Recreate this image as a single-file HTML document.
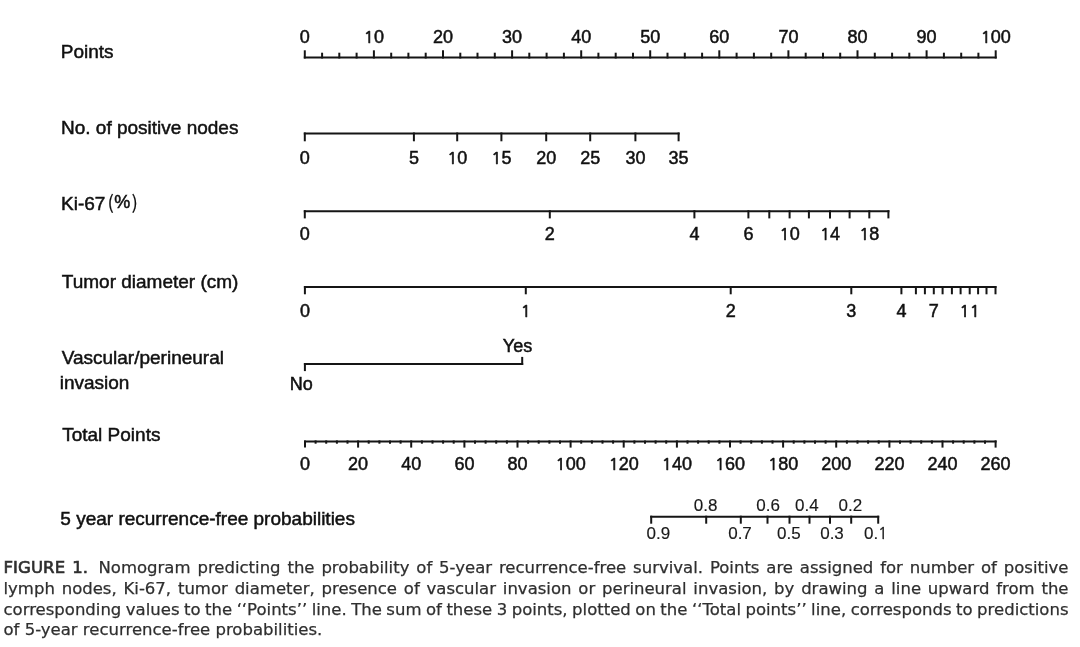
<!DOCTYPE html>
<html><head><meta charset="utf-8"><style>
html,body{margin:0;padding:0;background:#fff;}
body{width:1080px;height:647px;position:relative;overflow:hidden;}
svg{position:absolute;left:0;top:0;}
svg text{font-family:"Liberation Sans",Arial,sans-serif;fill:#111;stroke:#111;stroke-width:0.5px;}
svg text.p{fill:#1a1a1a;stroke-width:0.15px;}
svg .one{font-family:"NanumGothic","Liberation Sans",sans-serif;stroke-width:0.7px;}
svg text.p .one{stroke-width:0.35px;}
svg .cjk{stroke-width:0.15px;}
svg line{stroke:#151515;stroke-width:2.0;stroke-linecap:square;}
.cjk{font-family:"Noto Sans CJK SC",sans-serif;}
.cl{position:absolute;left:3.5px;width:1065px;font-family:"DejaVu Sans","Liberation Sans",sans-serif;font-size:16.5px;line-height:20.7px;color:#2f2f2f;-webkit-text-stroke:0.25px #2f2f2f;text-align:justify;text-align-last:justify;white-space:nowrap;}
.cl.l3{word-spacing:-0.8px;}
.cl.last{text-align-last:left;}
.cl b{font-weight:normal;letter-spacing:0.1px;-webkit-text-stroke:0.65px #2f2f2f;margin-right:3.5px;}
</style></head><body>
<svg width="1080" height="550" viewBox="0 0 1080 550">
<text x="60.8" y="58.3" font-size="19" text-anchor="start">Points</text>
<text x="61.0" y="134.1" font-size="19" text-anchor="start">No. of positive nodes</text>
<text x="61.8" y="287.6" font-size="19" text-anchor="start">Tumor diameter (cm)</text>
<text x="61.7" y="364.1" font-size="19" text-anchor="start">Vascular/perineural</text>
<text x="59.7" y="388.5" font-size="19" text-anchor="start">invasion</text>
<text x="62.2" y="440.9" font-size="19" text-anchor="start">Total Points</text>
<text x="60.3" y="524.6" font-size="19" text-anchor="start">5 year recurrence-free probabilities</text>
<text x="61" y="210.4" font-size="19" text-anchor="start">Ki-67<tspan class="cjk" dx="2.2" dy="-1.15" font-size="19">(</tspan><tspan dy="-1.1" dx="0.3" font-size="18">%</tspan><tspan class="cjk" dy="1.1" dx="1.3" font-size="19">)</tspan></text>
<line x1="304.8" y1="57.5" x2="995.7" y2="57.5"/>
<line x1="304.8" y1="57.5" x2="304.8" y2="51.3"/>
<text x="304.8" y="43.0" font-size="18" text-anchor="middle">0</text>
<line x1="322.1" y1="57.5" x2="322.1" y2="53.7"/>
<line x1="339.3" y1="57.5" x2="339.3" y2="53.7"/>
<line x1="356.6" y1="57.5" x2="356.6" y2="53.7"/>
<line x1="373.9" y1="57.5" x2="373.9" y2="51.3"/>
<text x="373.9" y="43.0" font-size="18" text-anchor="middle"><tspan class="one" font-size="16.67">1</tspan>0</text>
<line x1="391.2" y1="57.5" x2="391.2" y2="53.7"/>
<line x1="408.4" y1="57.5" x2="408.4" y2="53.7"/>
<line x1="425.7" y1="57.5" x2="425.7" y2="53.7"/>
<line x1="443.0" y1="57.5" x2="443.0" y2="51.3"/>
<text x="443.0" y="43.0" font-size="18" text-anchor="middle">20</text>
<line x1="460.3" y1="57.5" x2="460.3" y2="53.7"/>
<line x1="477.5" y1="57.5" x2="477.5" y2="53.7"/>
<line x1="494.8" y1="57.5" x2="494.8" y2="53.7"/>
<line x1="512.1" y1="57.5" x2="512.1" y2="51.3"/>
<text x="512.1" y="43.0" font-size="18" text-anchor="middle">30</text>
<line x1="529.3" y1="57.5" x2="529.3" y2="53.7"/>
<line x1="546.6" y1="57.5" x2="546.6" y2="53.7"/>
<line x1="563.9" y1="57.5" x2="563.9" y2="53.7"/>
<line x1="581.2" y1="57.5" x2="581.2" y2="51.3"/>
<text x="581.2" y="43.0" font-size="18" text-anchor="middle">40</text>
<line x1="598.4" y1="57.5" x2="598.4" y2="53.7"/>
<line x1="615.7" y1="57.5" x2="615.7" y2="53.7"/>
<line x1="633.0" y1="57.5" x2="633.0" y2="53.7"/>
<line x1="650.2" y1="57.5" x2="650.2" y2="51.3"/>
<text x="650.2" y="43.0" font-size="18" text-anchor="middle">50</text>
<line x1="667.5" y1="57.5" x2="667.5" y2="53.7"/>
<line x1="684.8" y1="57.5" x2="684.8" y2="53.7"/>
<line x1="702.1" y1="57.5" x2="702.1" y2="53.7"/>
<line x1="719.3" y1="57.5" x2="719.3" y2="51.3"/>
<text x="719.3" y="43.0" font-size="18" text-anchor="middle">60</text>
<line x1="736.6" y1="57.5" x2="736.6" y2="53.7"/>
<line x1="753.9" y1="57.5" x2="753.9" y2="53.7"/>
<line x1="771.2" y1="57.5" x2="771.2" y2="53.7"/>
<line x1="788.4" y1="57.5" x2="788.4" y2="51.3"/>
<text x="788.4" y="43.0" font-size="18" text-anchor="middle">70</text>
<line x1="805.7" y1="57.5" x2="805.7" y2="53.7"/>
<line x1="823.0" y1="57.5" x2="823.0" y2="53.7"/>
<line x1="840.2" y1="57.5" x2="840.2" y2="53.7"/>
<line x1="857.5" y1="57.5" x2="857.5" y2="51.3"/>
<text x="857.5" y="43.0" font-size="18" text-anchor="middle">80</text>
<line x1="874.8" y1="57.5" x2="874.8" y2="53.7"/>
<line x1="892.1" y1="57.5" x2="892.1" y2="53.7"/>
<line x1="909.3" y1="57.5" x2="909.3" y2="53.7"/>
<line x1="926.6" y1="57.5" x2="926.6" y2="51.3"/>
<text x="926.6" y="43.0" font-size="18" text-anchor="middle">90</text>
<line x1="943.9" y1="57.5" x2="943.9" y2="53.7"/>
<line x1="961.2" y1="57.5" x2="961.2" y2="53.7"/>
<line x1="978.4" y1="57.5" x2="978.4" y2="53.7"/>
<line x1="995.7" y1="57.5" x2="995.7" y2="51.3"/>
<text x="995.7" y="43.0" font-size="18" text-anchor="middle"><tspan class="one" font-size="16.67">1</tspan>00</text>
<line x1="304.8" y1="133.5" x2="678.6" y2="133.5"/>
<line x1="304.8" y1="133.5" x2="304.8" y2="140.3"/>
<text x="304.8" y="164.2" font-size="18" text-anchor="middle">0</text>
<line x1="413.9" y1="133.5" x2="413.9" y2="140.3"/>
<text x="413.9" y="164.2" font-size="18" text-anchor="middle">5</text>
<line x1="457.2" y1="133.5" x2="457.2" y2="140.3"/>
<text x="457.2" y="164.2" font-size="18" text-anchor="middle"><tspan class="one" font-size="16.67">1</tspan>0</text>
<line x1="501.4" y1="133.5" x2="501.4" y2="140.3"/>
<text x="501.4" y="164.2" font-size="18" text-anchor="middle"><tspan class="one" font-size="16.67">1</tspan>5</text>
<line x1="546.2" y1="133.5" x2="546.2" y2="140.3"/>
<text x="546.2" y="164.2" font-size="18" text-anchor="middle">20</text>
<line x1="590.2" y1="133.5" x2="590.2" y2="140.3"/>
<text x="590.2" y="164.2" font-size="18" text-anchor="middle">25</text>
<line x1="635.4" y1="133.5" x2="635.4" y2="140.3"/>
<text x="635.4" y="164.2" font-size="18" text-anchor="middle">30</text>
<line x1="678.6" y1="133.5" x2="678.6" y2="140.3"/>
<text x="678.6" y="164.2" font-size="18" text-anchor="middle">35</text>
<line x1="304.8" y1="211.2" x2="888.4" y2="211.2"/>
<line x1="304.8" y1="211.2" x2="304.8" y2="217.4"/>
<text x="304.8" y="240.0" font-size="18" text-anchor="middle">0</text>
<line x1="549.8" y1="211.2" x2="549.8" y2="217.4"/>
<text x="549.8" y="240.0" font-size="18" text-anchor="middle">2</text>
<line x1="694.4" y1="211.2" x2="694.4" y2="217.4"/>
<text x="694.4" y="240.0" font-size="18" text-anchor="middle">4</text>
<line x1="748.4" y1="211.2" x2="748.4" y2="217.4"/>
<text x="748.4" y="240.0" font-size="18" text-anchor="middle">6</text>
<line x1="769.3" y1="211.2" x2="769.3" y2="217.4"/>
<line x1="789.6" y1="211.2" x2="789.6" y2="217.4"/>
<text x="789.6" y="240.0" font-size="18" text-anchor="middle"><tspan class="one" font-size="16.67">1</tspan>0</text>
<line x1="808.9" y1="211.2" x2="808.9" y2="217.4"/>
<line x1="830.0" y1="211.2" x2="830.0" y2="217.4"/>
<text x="830.0" y="240.0" font-size="18" text-anchor="middle"><tspan class="one" font-size="16.67">1</tspan>4</text>
<line x1="849.6" y1="211.2" x2="849.6" y2="217.4"/>
<line x1="869.3" y1="211.2" x2="869.3" y2="217.4"/>
<text x="869.3" y="240.0" font-size="18" text-anchor="middle"><tspan class="one" font-size="16.67">1</tspan>8</text>
<line x1="888.4" y1="211.2" x2="888.4" y2="217.4"/>
<line x1="304.9" y1="287.0" x2="995.5" y2="287.0"/>
<line x1="304.9" y1="287.0" x2="304.9" y2="293.3"/>
<text x="304.9" y="317.0" font-size="18" text-anchor="middle">0</text>
<line x1="525.8" y1="287.0" x2="525.8" y2="293.3"/>
<text x="525.8" y="317.0" font-size="18" text-anchor="middle"><tspan class="one" font-size="16.67">1</tspan></text>
<line x1="730.7" y1="287.0" x2="730.7" y2="293.3"/>
<text x="730.7" y="317.0" font-size="18" text-anchor="middle">2</text>
<line x1="851.3" y1="287.0" x2="851.3" y2="293.3"/>
<text x="851.3" y="317.0" font-size="18" text-anchor="middle">3</text>
<line x1="901.4" y1="287.0" x2="901.4" y2="293.3"/>
<text x="901.4" y="317.0" font-size="18" text-anchor="middle">4</text>
<line x1="915.9" y1="287.0" x2="915.9" y2="293.3"/>
<line x1="924.9" y1="287.0" x2="924.9" y2="293.3"/>
<line x1="933.8" y1="287.0" x2="933.8" y2="293.3"/>
<text x="933.8" y="317.0" font-size="18" text-anchor="middle">7</text>
<line x1="942.6" y1="287.0" x2="942.6" y2="293.3"/>
<line x1="951.9" y1="287.0" x2="951.9" y2="293.3"/>
<line x1="960.6" y1="287.0" x2="960.6" y2="293.3"/>
<line x1="969.7" y1="287.0" x2="969.7" y2="293.3"/>
<text x="969.7" y="317.0" font-size="18" text-anchor="middle"><tspan class="one" font-size="16.67">1</tspan><tspan class="one" font-size="16.67">1</tspan></text>
<line x1="978.1" y1="287.0" x2="978.1" y2="293.3"/>
<line x1="986.5" y1="287.0" x2="986.5" y2="293.3"/>
<line x1="995.5" y1="287.0" x2="995.5" y2="293.3"/>
<line x1="304.9" y1="364.0" x2="522.2" y2="364.0"/>
<line x1="304.9" y1="364.0" x2="304.9" y2="370.1"/>
<line x1="522.2" y1="364.0" x2="522.2" y2="357.9"/>
<text x="517.5" y="352.2" font-size="18" text-anchor="middle">Yes</text>
<text x="301.2" y="390.4" font-size="18" text-anchor="middle">No</text>
<line x1="305.0" y1="441.4" x2="995.6" y2="441.4"/>
<line x1="305.0" y1="441.4" x2="305.0" y2="446.6"/>
<text x="305.0" y="470.0" font-size="18" text-anchor="middle">0</text>
<line x1="315.6" y1="441.4" x2="315.6" y2="442.7"/>
<line x1="326.2" y1="441.4" x2="326.2" y2="442.7"/>
<line x1="336.9" y1="441.4" x2="336.9" y2="442.7"/>
<line x1="347.5" y1="441.4" x2="347.5" y2="442.7"/>
<line x1="358.1" y1="441.4" x2="358.1" y2="446.6"/>
<text x="358.1" y="470.0" font-size="18" text-anchor="middle">20</text>
<line x1="368.7" y1="441.4" x2="368.7" y2="442.7"/>
<line x1="379.4" y1="441.4" x2="379.4" y2="442.7"/>
<line x1="390.0" y1="441.4" x2="390.0" y2="442.7"/>
<line x1="400.6" y1="441.4" x2="400.6" y2="442.7"/>
<line x1="411.2" y1="441.4" x2="411.2" y2="446.6"/>
<text x="411.2" y="470.0" font-size="18" text-anchor="middle">40</text>
<line x1="421.9" y1="441.4" x2="421.9" y2="442.7"/>
<line x1="432.5" y1="441.4" x2="432.5" y2="442.7"/>
<line x1="443.1" y1="441.4" x2="443.1" y2="442.7"/>
<line x1="453.7" y1="441.4" x2="453.7" y2="442.7"/>
<line x1="464.4" y1="441.4" x2="464.4" y2="446.6"/>
<text x="464.4" y="470.0" font-size="18" text-anchor="middle">60</text>
<line x1="475.0" y1="441.4" x2="475.0" y2="442.7"/>
<line x1="485.6" y1="441.4" x2="485.6" y2="442.7"/>
<line x1="496.2" y1="441.4" x2="496.2" y2="442.7"/>
<line x1="506.9" y1="441.4" x2="506.9" y2="442.7"/>
<line x1="517.5" y1="441.4" x2="517.5" y2="446.6"/>
<text x="517.5" y="470.0" font-size="18" text-anchor="middle">80</text>
<line x1="528.1" y1="441.4" x2="528.1" y2="442.7"/>
<line x1="538.7" y1="441.4" x2="538.7" y2="442.7"/>
<line x1="549.4" y1="441.4" x2="549.4" y2="442.7"/>
<line x1="560.0" y1="441.4" x2="560.0" y2="442.7"/>
<line x1="570.6" y1="441.4" x2="570.6" y2="446.6"/>
<text x="570.6" y="470.0" font-size="18" text-anchor="middle"><tspan class="one" font-size="16.67">1</tspan>00</text>
<line x1="581.2" y1="441.4" x2="581.2" y2="442.7"/>
<line x1="591.9" y1="441.4" x2="591.9" y2="442.7"/>
<line x1="602.5" y1="441.4" x2="602.5" y2="442.7"/>
<line x1="613.1" y1="441.4" x2="613.1" y2="442.7"/>
<line x1="623.7" y1="441.4" x2="623.7" y2="446.6"/>
<text x="623.7" y="470.0" font-size="18" text-anchor="middle"><tspan class="one" font-size="16.67">1</tspan>20</text>
<line x1="634.4" y1="441.4" x2="634.4" y2="442.7"/>
<line x1="645.0" y1="441.4" x2="645.0" y2="442.7"/>
<line x1="655.6" y1="441.4" x2="655.6" y2="442.7"/>
<line x1="666.2" y1="441.4" x2="666.2" y2="442.7"/>
<line x1="676.9" y1="441.4" x2="676.9" y2="446.6"/>
<text x="676.9" y="470.0" font-size="18" text-anchor="middle"><tspan class="one" font-size="16.67">1</tspan>40</text>
<line x1="687.5" y1="441.4" x2="687.5" y2="442.7"/>
<line x1="698.1" y1="441.4" x2="698.1" y2="442.7"/>
<line x1="708.7" y1="441.4" x2="708.7" y2="442.7"/>
<line x1="719.4" y1="441.4" x2="719.4" y2="442.7"/>
<line x1="730.0" y1="441.4" x2="730.0" y2="446.6"/>
<text x="730.0" y="470.0" font-size="18" text-anchor="middle"><tspan class="one" font-size="16.67">1</tspan>60</text>
<line x1="740.6" y1="441.4" x2="740.6" y2="442.7"/>
<line x1="751.2" y1="441.4" x2="751.2" y2="442.7"/>
<line x1="761.9" y1="441.4" x2="761.9" y2="442.7"/>
<line x1="772.5" y1="441.4" x2="772.5" y2="442.7"/>
<line x1="783.1" y1="441.4" x2="783.1" y2="446.6"/>
<text x="783.1" y="470.0" font-size="18" text-anchor="middle"><tspan class="one" font-size="16.67">1</tspan>80</text>
<line x1="793.7" y1="441.4" x2="793.7" y2="442.7"/>
<line x1="804.4" y1="441.4" x2="804.4" y2="442.7"/>
<line x1="815.0" y1="441.4" x2="815.0" y2="442.7"/>
<line x1="825.6" y1="441.4" x2="825.6" y2="442.7"/>
<line x1="836.2" y1="441.4" x2="836.2" y2="446.6"/>
<text x="836.2" y="470.0" font-size="18" text-anchor="middle">200</text>
<line x1="846.9" y1="441.4" x2="846.9" y2="442.7"/>
<line x1="857.5" y1="441.4" x2="857.5" y2="442.7"/>
<line x1="868.1" y1="441.4" x2="868.1" y2="442.7"/>
<line x1="878.7" y1="441.4" x2="878.7" y2="442.7"/>
<line x1="889.4" y1="441.4" x2="889.4" y2="446.6"/>
<text x="889.4" y="470.0" font-size="18" text-anchor="middle">220</text>
<line x1="900.0" y1="441.4" x2="900.0" y2="442.7"/>
<line x1="910.6" y1="441.4" x2="910.6" y2="442.7"/>
<line x1="921.2" y1="441.4" x2="921.2" y2="442.7"/>
<line x1="931.9" y1="441.4" x2="931.9" y2="442.7"/>
<line x1="942.5" y1="441.4" x2="942.5" y2="446.6"/>
<text x="942.5" y="470.0" font-size="18" text-anchor="middle">240</text>
<line x1="953.1" y1="441.4" x2="953.1" y2="442.7"/>
<line x1="963.7" y1="441.4" x2="963.7" y2="442.7"/>
<line x1="974.4" y1="441.4" x2="974.4" y2="442.7"/>
<line x1="985.0" y1="441.4" x2="985.0" y2="442.7"/>
<line x1="995.6" y1="441.4" x2="995.6" y2="446.6"/>
<text x="995.6" y="470.0" font-size="18" text-anchor="middle">260</text>
<line x1="651.2" y1="516.7" x2="878.2" y2="516.7"/>
<line x1="651.2" y1="516.7" x2="651.2" y2="522.7"/>
<text x="658.3" y="539.0" font-size="17" text-anchor="middle" class="p">0.9</text>
<line x1="706.2" y1="516.7" x2="706.2" y2="522.7"/>
<text x="705.6" y="510.6" font-size="17" text-anchor="middle" class="p">0.8</text>
<line x1="740.8" y1="516.7" x2="740.8" y2="522.7"/>
<text x="740.0" y="539.0" font-size="17" text-anchor="middle" class="p">0.7</text>
<line x1="767.5" y1="516.7" x2="767.5" y2="522.7"/>
<text x="768.1" y="510.6" font-size="17" text-anchor="middle" class="p">0.6</text>
<line x1="789.5" y1="516.7" x2="789.5" y2="522.7"/>
<text x="788.8" y="539.0" font-size="17" text-anchor="middle" class="p">0.5</text>
<line x1="809.5" y1="516.7" x2="809.5" y2="522.7"/>
<text x="806.9" y="510.6" font-size="17" text-anchor="middle" class="p">0.4</text>
<line x1="830.0" y1="516.7" x2="830.0" y2="522.7"/>
<text x="832.0" y="539.0" font-size="17" text-anchor="middle" class="p">0.3</text>
<line x1="851.2" y1="516.7" x2="851.2" y2="522.7"/>
<text x="850.4" y="510.6" font-size="17" text-anchor="middle" class="p">0.2</text>
<line x1="878.2" y1="516.7" x2="878.2" y2="522.7"/>
<text x="875.8" y="539.0" font-size="17" text-anchor="middle" class="p">0.<tspan class="one" font-size="15.74">1</tspan></text>
</svg>
<div class="cl" style="top:558.2px"><b class="fg">FIGURE 1.</b> Nomogram predicting the probability of 5-year recurrence-free survival. Points are assigned for number of positive</div>
<div class="cl" style="top:579.2px">lymph nodes, Ki-67, tumor diameter, presence of vascular invasion or perineural invasion, by drawing a line upward from the</div>
<div class="cl l3" style="top:600.4px">corresponding values to the &#8216;&#8216;Points&#8217;&#8217; line. The sum of these 3 points, plotted on the &#8216;&#8216;Total points&#8217;&#8217; line, corresponds to predictions</div>
<div class="cl last" style="top:620.0px">of 5-year recurrence-free probabilities.</div>
</body></html>
